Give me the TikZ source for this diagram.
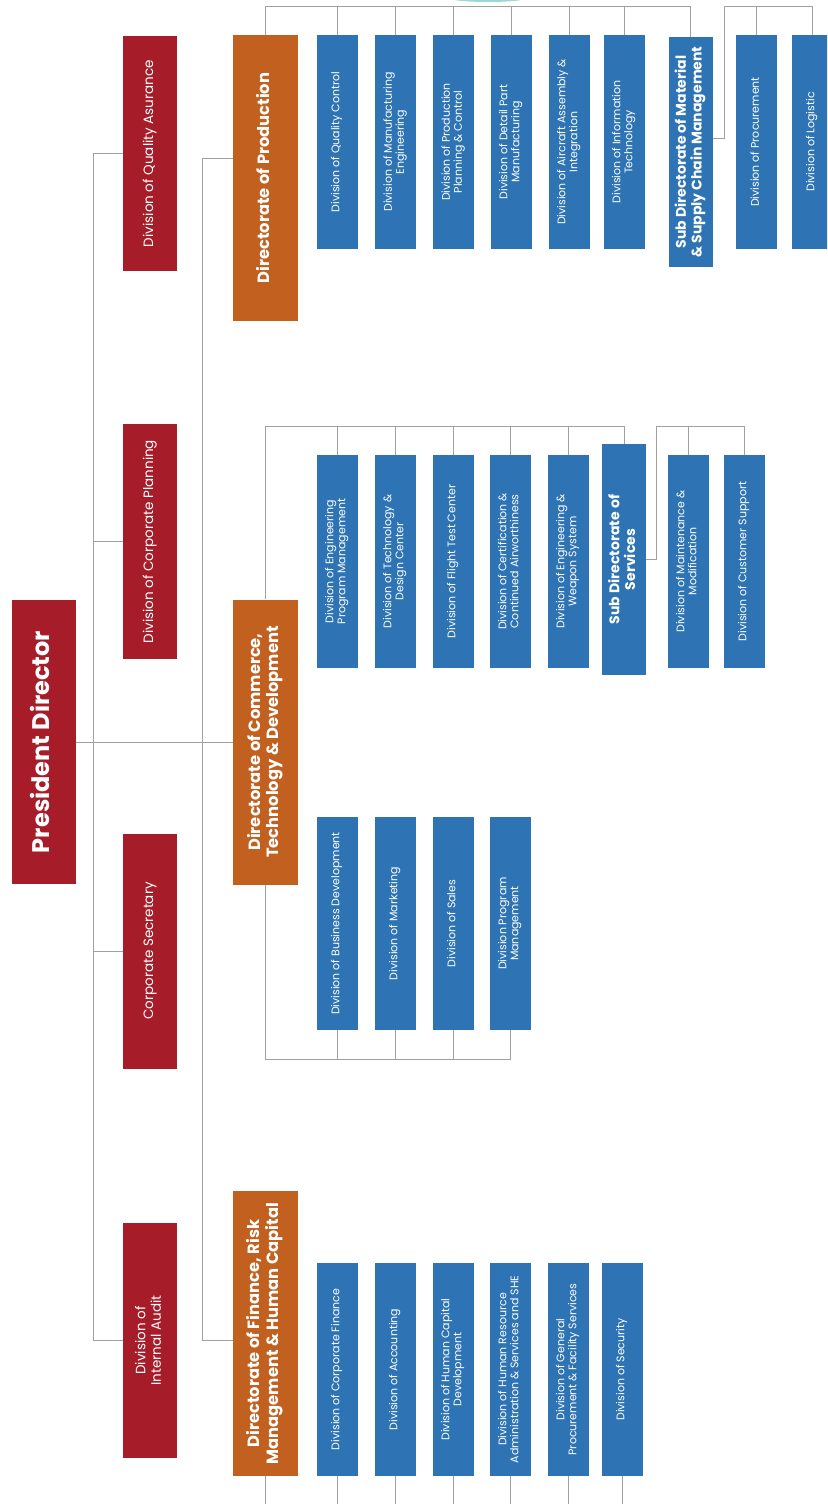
\documentclass[tikz,border=0pt]{standalone}
\usepackage{fontspec}
\setmainfont{Poppins}
\usepackage{graphicx}
\usepackage{tikz}
\definecolor{pdred}{HTML}{A61C29}
\definecolor{dirorange}{HTML}{C1601F}
\definecolor{divblue}{HTML}{2E74B5}
\definecolor{linkgray}{HTML}{A0A0A0}
\definecolor{logoteal}{HTML}{9ED6D8}
\newcommand{\vlabel}[1]{\rotatebox{90}{\begin{tabular}{@{}c@{}}#1\end{tabular}}}

\begin{document}
\begin{tikzpicture}[x=1pt,y=-1pt,
  box/.style={inner sep=0pt, text=white, align=center},
  staff/.style={box, fill=pdred, minimum width=54pt, minimum height=235pt, font=\fontsize{13.5}{15.5}\selectfont},
  dir/.style={box, fill=dirorange, minimum width=65pt, minimum height=285pt, font=\bfseries\fontsize{16.3}{18.5}\selectfont},
  div/.style={box, fill=divblue, minimum width=41pt, minimum height=213pt, font=\fontsize{11}{12}\selectfont},
  subdir/.style={box, fill=divblue, minimum width=44pt, font=\bfseries\fontsize{14}{15.5}\selectfont},
  conn/.style={draw=linkgray, line width=0.8pt}]
\useasboundingbox (0,0) rectangle (827,1504);
\path[clip] (0,0) rectangle (827,1504);
\fill[logoteal] (488,-3) ellipse (42pt and 5pt);

\node(pres) [box, fill=pdred, minimum width=64pt, minimum height=284pt, font=\bfseries\fontsize{24}{27}\selectfont] at (44,742) {\vlabel{President Director}};

\node(qa) [staff] at (150,153.5) {\vlabel{Division of Quality Asurance}};
\node(cp) [staff] at (150,541.5) {\vlabel{Division of Corporate Planning}};
\node(cs) [staff] at (150,951) {\vlabel{Corporate Secretary}};
\node(ia) [staff] at (150,1340.5) {\vlabel{Division of\\Internal Audit}};

\node(dprod) [dir] at (265.5,178) {\vlabel{Directorate of Production}};
\node(dcom) [dir] at (265.5,742) {\vlabel{Directorate of Commerce,\\Technology \& Development}};
\node(dfin) [dir] at (265.5,1333.5) {\vlabel{Directorate of Finance, Risk\\Management \& Human Capital}};

\node(qc) [div] at (337,142) {\vlabel{Division of Quality Control}};
\node(me) [div] at (395.5,142) {\vlabel{Division of Manufacturing\\Engineering}};
\node(ppc) [div] at (453.5,142) {\vlabel{Division of Production\\Planning \& Control}};
\node(dpm) [div] at (511,142) {\vlabel{Division of Detail Part\\Manufacturing}};
\node(aai) [div] at (569,142) {\vlabel{Division of Aircraft Assembly \&\\Integration}};
\node(it) [div] at (624,142) {\vlabel{Division of Information\\Technology}};
\node(submat) [subdir, minimum height=230pt] at (690.5,152) {\vlabel{Sub Directorate of Material\\\& Supply Chain Management}};
\node(proc) [div] at (756.5,142) {\vlabel{Division of Procurement}};
\node(logi) [div] at (812,142) {\vlabel{Division of Logistic}};

\node(epm) [div] at (337,561.5) {\vlabel{Division of Engineering\\Program Management}};
\node(tdc) [div] at (395,561.5) {\vlabel{Division of Technology \&\\Design Center}};
\node(ftc) [div] at (453,561.5) {\vlabel{Division of Flight Test Center}};
\node(cca) [div] at (510,561.5) {\vlabel{Division of Certification \&\\Continued Airworthiness}};
\node(ews) [div] at (568,561.5) {\vlabel{Division of Engineering \&\\Weapon System}};
\node(subserv) [subdir, minimum height=231pt] at (624,559.5) {\vlabel{Sub Directorate of\\Services}};
\node(mm) [div] at (688,561.5) {\vlabel{Division of Maintenance \&\\Modification}};
\node(csup) [div] at (744,561.5) {\vlabel{Division of Customer Support}};

\node(bd) [div] at (337,923.5) {\vlabel{Division of Business Development}};
\node(mkt) [div] at (395,923.5) {\vlabel{Division of Marketing}};
\node(sls) [div] at (453,923.5) {\vlabel{Division of Sales}};
\node(dpg) [div] at (510,923.5) {\vlabel{Division Program\\Management}};

\node(cf) [div] at (337,1369.5) {\vlabel{Division of Corporate Finance}};
\node(acc) [div] at (395,1369.5) {\vlabel{Division of Accounting}};
\node(hcd) [div] at (453,1369.5) {\vlabel{Division of Human Capital\\Development}};
\node(hra) [div] at (510,1369.5) {\vlabel{Division of Human Resource\\Administration \& Services and SHE}};
\node(gpf) [div] at (568,1369.5) {\vlabel{Division of General\\Procurement \& Facility Services}};
\node(sec) [div] at (622,1369.5) {\vlabel{Division of Security}};

\coordinate (prodbus) at (0,6);
\coordinate (combus) at (0,426);
\coordinate (combot) at (0,1059);
\coordinate (finbot) at (0,1510);

\draw[conn] (pres.east) -- (dcom.west);
\draw[conn] (qa.west) -- ++(-29,0) |- (ia.west);
\draw[conn] (cp.west) -- ++(-29,0);
\draw[conn] (cs.west) -- ++(-29,0);
\draw[conn] ([yshift=20pt]dprod.west) -- ++(-30,0) |- ([yshift=-6.5pt]dfin.west);

\draw[conn] (dprod.north) |- (prodbus -| submat.north) -- (submat.north);
\foreach \n in {qc,me,ppc,dpm,aai,it}
  \draw[conn] (\n.north) -- (\n.north |- prodbus);
\draw[conn] ([yshift=14pt]submat.east) -- ++(12,0) |- (prodbus -| logi.north) -- (logi.north);
\draw[conn] (proc.north) -- (proc.north |- prodbus);

\draw[conn] (dcom.north) |- (combus -| subserv.north) -- (subserv.north);
\foreach \n in {epm,tdc,ftc,cca,ews}
  \draw[conn] (\n.north) -- (\n.north |- combus);
\draw[conn] (subserv.east) -- ++(10,0) |- (combus -| csup.north) -- (csup.north);
\draw[conn] (mm.north) -- (mm.north |- combus);

\draw[conn] (dcom.south) |- (combot -| dpg.south) -- (dpg.south);
\foreach \n in {bd,mkt,sls}
  \draw[conn] (\n.south) -- (\n.south |- combot);

\foreach \n in {dfin,cf,acc,hcd,hra,gpf,sec}
  \draw[conn] (\n.south) -- (\n.south |- finbot);
\end{tikzpicture}
\end{document}
